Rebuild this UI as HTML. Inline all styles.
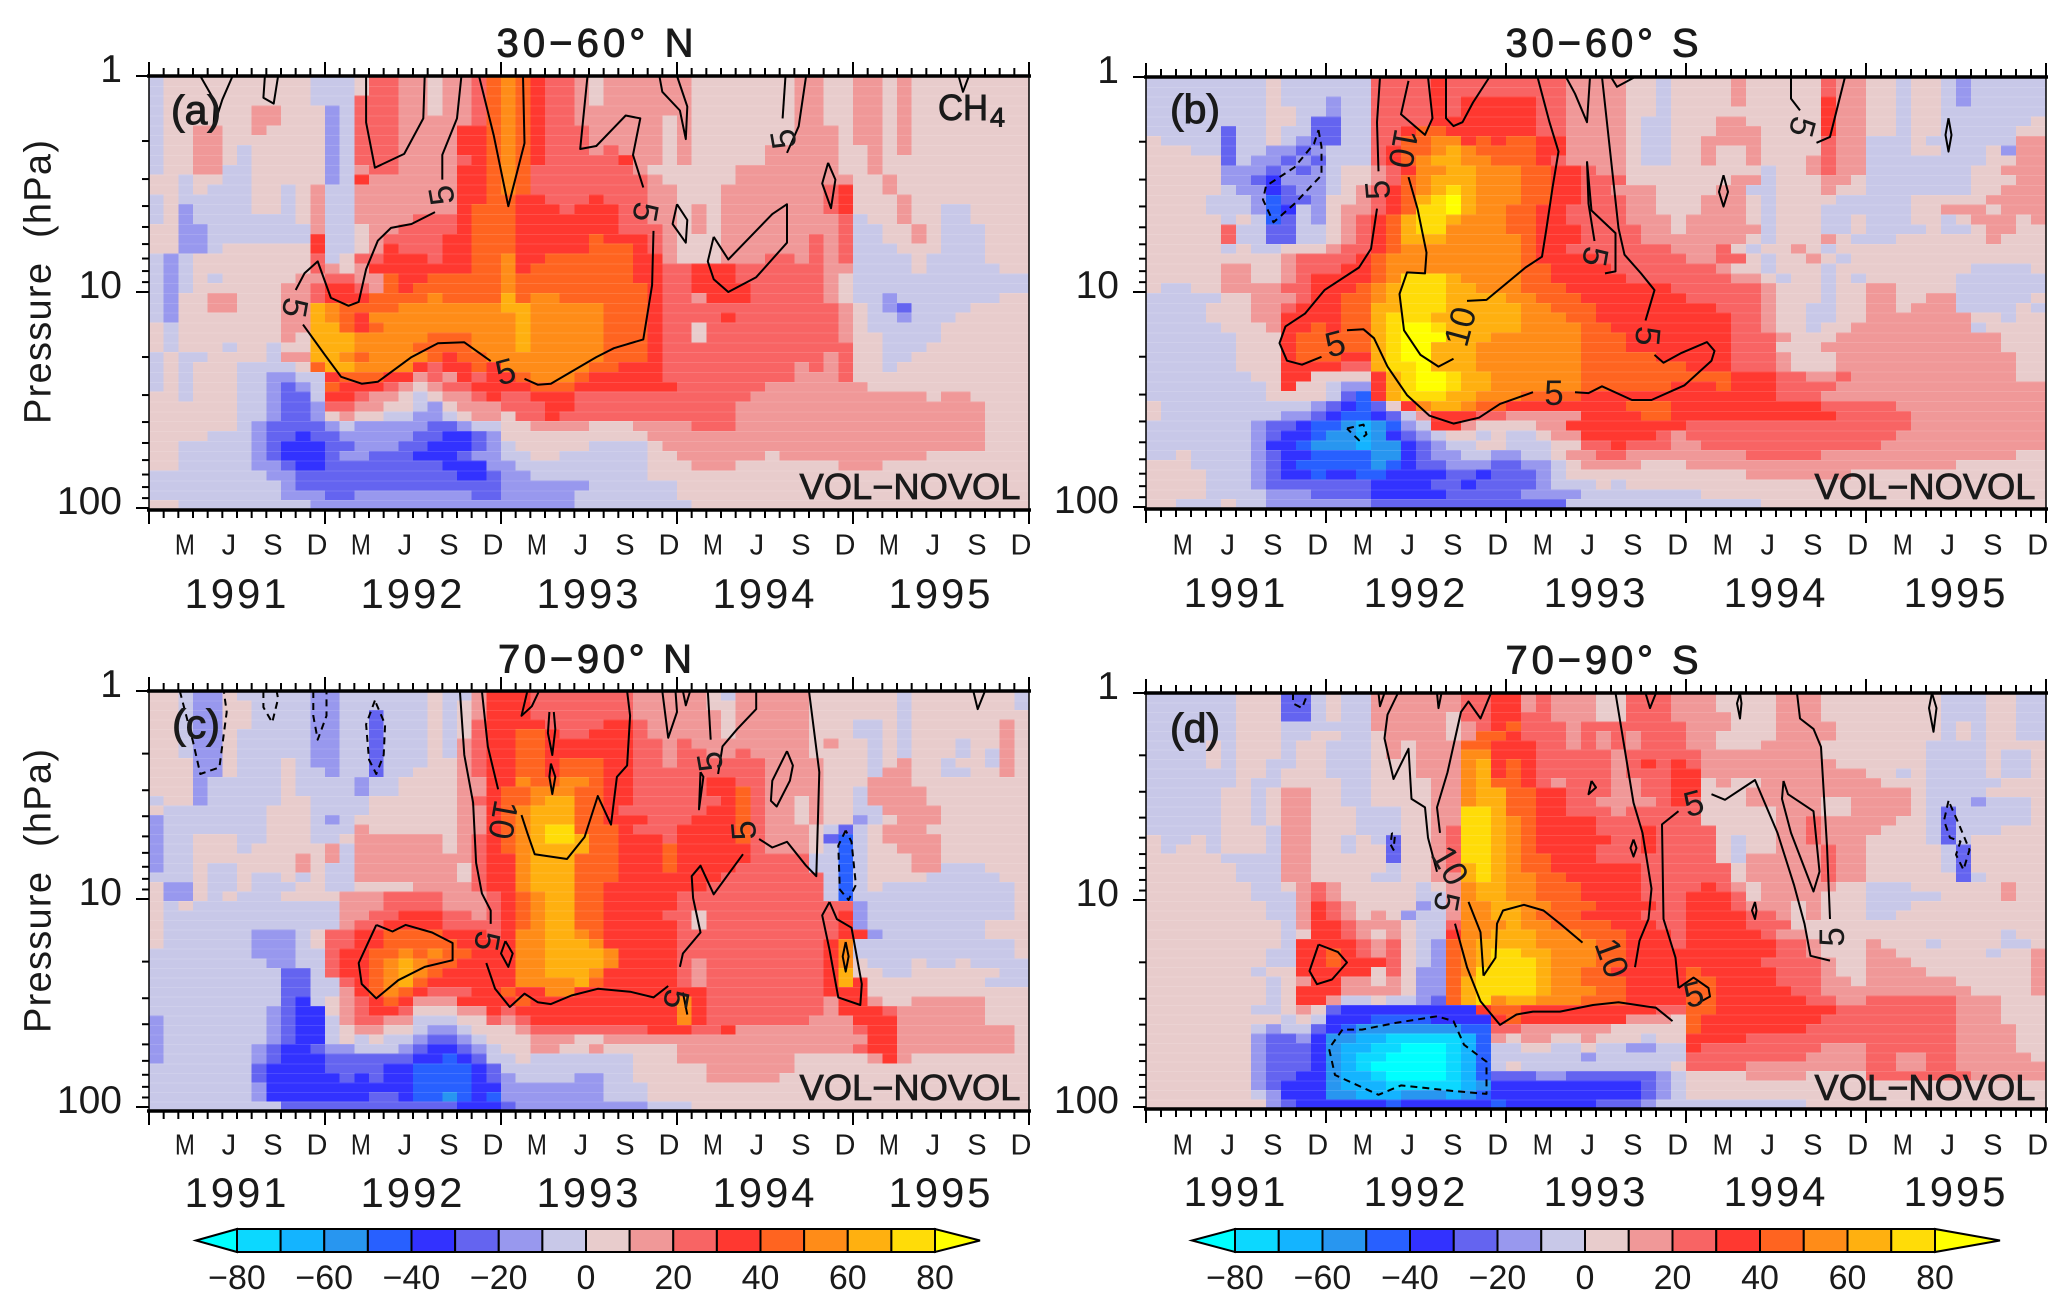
<!DOCTYPE html>
<html lang="en">
<head>
<meta charset="utf-8">
<title>CH4 VOL-NOVOL pressure-time panels</title>
<style>
html,body{margin:0;padding:0;background:#fff;}
svg{display:block;}
text{font-family:"Liberation Sans",sans-serif;fill:#1a1a1a;}
</style>
</head>
<body>
<svg id="chart" xmlns="http://www.w3.org/2000/svg" width="2067" height="1307" viewBox="0 0 2067 1307"></svg>
<script>
// Colour class codes: a..i negative bins from -5 to -85, 0..8 positive bins from 5 to 85
const binCodes = {a:-5,b:-15,c:-25,d:-35,e:-45,f:-55,g:-65,h:-75,i:-85,'0':5,'1':15,'2':25,'3':35,'4':45,'5':55,'6':65,'7':75,'8':85};
const legendBreaks = [-80,-70,-60,-50,-40,-30,-20,-10,0,10,20,30,40,50,60,70,80];
const legendColors = ['#00ffff','#0cd8ff','#14b4ff','#2896f0','#2860ff','#3232ff','#6464f0','#9898ee','#c8c8e8','#e8cccc','#f09898','#f86464','#ff3830','#ff6420','#ff8c18','#ffb010','#ffdc08','#ffff00'];
const legendTicks = [-80,-60,-40,-20,0,20,40,60,80];
const monthLetters = ['M','J','S','D'];
const monthIndexes = [2,5,8,11];
const yearLabels = ['1991','1992','1993','1994','1995'];
const pressureTicks = [1,2,3,4,5,6,7,8,9,10,20,30,40,50,60,70,80,90,100];
const pressureLabels = [1,10,100];

const rowsA = [
"a0000000000a aa0221101124 543221011111 100000001100 110100000000",
"a0000000000a aa0221101124 543221011111 100000001100 110100000000",
"a0000000000a aa2221101124 543221011111 100000001100 110100000000",
"a00000011000 ba2221101124 543221111111 100000001100 110100000000",
"a00000011000 ba2221111124 543221111110 100000001100 110100000000",
"a00110010000 ba2221111334 543222111110 100000001110 110100000000",
"a00110000000 ba2221111334 543222111110 100000001110 110100000000",
"a00110a00000 ba2221111334 543222121110 100000111110 010100000000",
"a00110a00000 ba2221111234 543222223110 100000111110 010000000000",
"a0011aa00000 ba1221111334 542222222100 000011111110 010000000000",
"00a00aa00000 ba3111111334 542222222210 000011111111 001000000000",
"00a0aaa00a01 aa1111111334 542222222211 000111111123 001000000000",
"a0aaaaa00a01 aa1111111334 433222322211 000111111123 000100000000",
"a0baaaa00a01 aa1111111344 433323332211 010111111123 000100aa0000",
"a0baaaaaaa01 aa1111222344 433333332211 010111111112 a00100aa0000",
"00bbaaaaaaa1 aa0112222344 433333332221 010111111112 aa0010aaa000",
"00bbaaaaaaa3 aa0122223344 433333433321 000111111212 aa0010aaa000",
"00bba0000003 aa0132223344 433333444321 000111111212 aaa000aaa000",
"aba000000002 a02233323344 533444444331 000111221212 aaaa0aaaa000",
"aba000000002 101333333344 534444444332 233322222211 aaaa0aaaaa00",
"aba0a0000011 221143344444 544444444332 233322222210 aaaaaaaaaaaa",
"aba000000112 332143444444 544444444432 233332222210 aaaaaaaaaaaa",
"ab0011000112 333444454444 645544444432 213332222210 aabaaaaaaa00",
"ab0011000116 544445555555 665555544432 222222222221 0abcaaaa0000",
"ab0000000116 543555555555 565555544432 222322222221 0aabaaa00000",
"0a0000000116 643455555555 565555544432 202222222221 0aaaaa000000",
"0a0000000106 665555544455 565555544432 202222222221 00aaaa000000",
"0a000a00a006 665555444455 565555544432 222222222222 00aaa0000000",
"a0aa0000a116 654555543445 555555544432 222222222212 00aa00000000",
"a0a000aaaa04 665555323343 555555443332 222222221212 00a000000000",
"a0a000aabbaa 344433121323 345554333332 222222221112 000000000000",
"a0a000aabcba 433321012233 334443333333 222222111111 100000000000",
"00a000aabcca 332110a01123 223332222222 222221111111 111110110000",
"000000aabccb 221100ab0111 222332222222 222211111111 111111111000",
"000000aabccb 0100aabba011 022322222222 222211111111 111111111000",
"000000abcccc babbbbbccbaa 001111000111 122211111111 111111111000",
"0000aaabccdc cbbbbbccddcb 000000000011 111111111111 111111111000",
"00aaaaabcddd ccbbbccdddcb a00000aaaa01 111111111111 111111111000",
"00aaaaabcddd cbbcccdddcbb aa00aaaaaa00 111111011111 111110000000",
"00aaaaabbcdd ccccccccdddb baaaaaaaaa00 011100000001 110000000000",
"aaaaaaaabbcc cccccccccddc bbaaaaaaaa00 000000000000 000000000000",
"aaaaaaaaabcc cccccccccccc bbbbbbaaaaaa 000000000000 000000000000",
"aaaaaaaaabbb ccbbbbbbbbcc bbbbbaaaaaaa 000000000000 000000000000",
"00aaaaaaaaab bbbbbbbbbbbb bbbbbaaaaaaa a00000000000 000000000000"
];
const rowsB = [
"aaaaaaaa0aaa aaa222232222 2222111100a0 000100000211 00a00abaaaaa",
"aaaaaaaa0aaa aaa222232222 2222111100a0 000100000211 00a00abaaaaa",
"aaaaaaaa0aaa baa222232333 3322111100a0 000100000311 00a00abaaaaa",
"aaaaaaaa00aa baa222232333 3322111100a0 000000000311 00a00aaaaaaa",
"aaaaaaaa00ac caa222233333 332211110aa0 001100000311 00a00aaaaaa0",
"aaaaacaa0aac caa223443333 332211110aa0 001110000311 00a00aaaaa00",
"0aaaacaa0abc caa224455343 443311110aa0 011110000211 aaa0aaaaaa11",
"000aacaabbcb aaa234456544 443311110aa0 010010000211 aaa00aaa0b11",
"00000cabbcbc aaa234566554 443211110aa0 010010001211 aaaaaaaa0011",
"00000bbbcbcb a00123556655 544332110000 00000a001211 aaaaaaa00111",
"00000bbcdbbb a00124566655 544332220000 00011a000110 aaaaaaa00011",
"00000abbdcbb a01234567655 544332211100 0011aa000100 aaaaaaa00111",
"0000aaabeccb 001234678655 544332221100 01110a0000aa aaa000001111",
"0000aaabedab 011234778655 443322221100 01110a000aaa aaa001110111",
"00000a0aecab 012346776555 443322221110 11110a000aa0 aaa00a011101",
"000002aaccaa 012346775555 443332222110 11111a000aa0 aaaa0aa01100",
"000002aaccaa 012346665555 543332222111 11110a00010a aa0000001000",
"00000a0aa000 122345555555 543322222221 1120a0010a00 000000000000",
"000000000122 223455555555 543333222222 11220a0010a0 000000000000",
"000001100122 233455555555 544333322222 22100a000a00 0000000aaaa0",
"000001100123 333457776555 544333332222 222110a00a0a 000000aaaaaa",
"0aa001111223 334567776655 544433333332 222221000a00 110000aaaaaa",
"aaaaa0011123 344567776666 554443333333 222221000a00 110011aaaaa0",
"aaaa00011233 344667776666 655444333333 33222100aa00 110111aaaa0a",
"aaaa00011333 344677766666 655544333333 33322100aa00 111111100a00",
"aaaaa0001334 344678876666 655554433333 33322100a001 1111111a0000",
"aaaaaa000344 444678886665 555554443333 333222100011 111111111000",
"aaaaaa000344 444678866655 555554443333 333222000111 111111111000",
"aaaaaa000344 433678866655 555554444433 333222100011 111111111100",
"aaaaaa000333 322677866655 555554444444 333222100011 111111111100",
"aaaaaaa00330 000367887665 555554444444 444333221121 111111111100",
"aaaaaaaa0300 abb367887665 555554444443 334333222211 111111111111",
"aaaaaaaa0000 ace367776655 544443333333 333333222111 111111111111",
"0aaaaaaaaaab cdec03566544 333333334443 333333333222 221111111111",
"0aaaaaaaabbc deedca133322 111113333443 333333333322 222111111111",
"aaaaaaabccde efgfeba33100 001133333333 222222222222 222111111111",
"aaaaaaabcdde ffgfdcba00a0 aa0113333321 222222222222 221111111111",
"aaaaaaabddef ffgffdcbaa00 aaa002232221 122222222222 211111111111",
"aa0aaaabcdde eeeffdcbbaab baa011221111 111122222111 111111111100",
"000aaaabcdee eeefedccbbbc cbba01111000 111111111111 111111000000",
"0000aaabcdde ddeeddddccdc ccba00000000 000011111110 000000000000",
"0000aaabcccc cccddddccdcc ccbaaa0a0000 000000000000 000000000000",
"0000aaaabbbc cccdddddcccc cbbbbaaaaaaa a00000000000 000000000000",
"00aaa0aabbbb bbbccccccccc ccccaaaaaaaa aaaaa0000000 000000000000"
];
const rowsC = [
"00abb0aaaaab baaaaaa0aa13 332222222111 110a11111000 000a0000000a",
"00abb00aaaab baaaaaa0a013 332222222111 110011111000 000a0000000a",
"00abb00aaaab baacaaa0a013 332222222111 111011111000 000a00000000",
"00abb00aaaab baacaaa0a023 333222233211 111011111000 aa0a00000010",
"00abb0aaaaab baacaaa0a023 344322333211 111011111000 aa0a00000010",
"00abb0aaaaab baacaaa0a123 344333333221 211111111010 0a0a000a0010",
"00abb0aaaaab baacaaa0a123 344333333221 221121111000 0a0a000a0a10",
"000bb0aaa0ab baacaaa00123 344344433221 222222111100 0a0100a00a10",
"000bb0aaa0aa baacaa000123 344344433222 222222111100 0a1100aa0010",
"000baaaaa0aa aabaa0000113 354455433222 223322111100 011100000000",
"000baaaaa0aa aabaa0000113 445554433222 223342111100 a11110000000",
"a00baaaaa00a aaa000000123 445664433222 222342110100 a11110000000",
"0aaaaaaa000a aaa000000113 456664432222 223342110100 aa1111000000",
"baaaaaaa000a ba0000000113 456664433322 233342110100 ba0111000000",
"baaaaaaa000a aa1000000113 456774443222 3333421110ac a01110000000",
"baa000aa000a a01111110123 456776443332 3333421110ce a01111000000",
"baa000a00000 1a1111110123 456666443334 3333321110ae a00111000000",
"baa000000010 1a1111111123 356664443334 333332222aae a00011000000",
"baa0aa000010 aa1111111023 356664443334 333322222aae a00011aaa000",
"aaa0aa0aa0a0 aa1111111023 356664443333 3332222222ae a0000aaaaa00",
"0bb0aa0aaa00 aa0000111123 356664433333 3322222222ae a0aaaaaaaaa0",
"0bb0a0aaa000 011122221112 345664433333 2222222222ae aaaaaaaaaaa0",
"0a0aaaaaaaaa a11122221112 345664433333 222222222222 baaaaaaaaaa0",
"0aaaaaaaaaaa a11223332212 345664433332 202222222223 baaaaaaaaaa0",
"0aaaaaaaaaaa a12233332222 345664433333 202222222223 baaaaaaaa000",
"0aaaaaabbba0 223344443332 355665433333 222222222223 3baaaaaaa000",
"0aaaaaabbba0 223344444333 355666533333 222222222235 aaaaaaaaaaa0",
"aaaaaaabbbaa 233445454433 355666653333 222222222235 aaaaaaaaaaa0",
"aaaaaaaabbaa 233456544333 355666653333 212222222235 0aaa0aa0aaaa",
"aaaaaaaaacca 233456543333 355666533333 212222222236 00aa000000aa",
"aaaaaaaaacca a23456433333 355556433333 212222222236 300000000aaa",
"aaaaaaaaacca a13454322233 433553333333 332222222233 300000000000",
"aaaaaaaaacda 012343111333 343333333333 532222222213 310011111000",
"aaaaaaaabcdd 012332000113 233333333333 532222222213 332111111000",
"baaaaaaabcdd a12211aaa002 123333333333 532222222111 333111111000",
"baaaaaaabcdd a01100abba00 012222222233 322311111111 233111111110",
"baaaaaaabcdd a0a0aabccba0 001110011111 111111111111 133111111110",
"baaaaaabcddc bbaaabcddcba 001100100000 111111111111 233111111110",
"baaaaaabcddd ccccccddedca a0aaaaaaa000 111111110000 013100000000",
"aaaaaaacdddd ccccddeeeedc aaaaaaaaa000 001111110000 000000000000",
"aaaaaaacdddd dcdcddeeeedc baaaabbaa000 001111100000 000000000000",
"aaaaaaabdddd ddddddeeeedd bbbbbbbaaa00 000000000000 000000000000",
"aaaaaaabdddd dddccdeefede bbbbbbbaaa00 000000000000 000000000000",
"aaaaaaaaaccc cccccccccddd cbbbbbbbbbaa a00000000000 000000000000"
];
const rowsD = [
"aaaaaa000cca 0aa111111223 312111002221 110000111000 00000aaa00aa",
"aaaaaa000cca 0aa111111223 312111002221 110000111000 00000aaa00aa",
"aaaaaa000cca 0aa111110223 322111002221 111000111000 00000aaa00aa",
"aaaaaa000aaa aaa111110123 422212222222 111000111100 00000a0a00aa",
"aaaaaa000aa0 0aa011110144 322212121222 110000111100 00000a0a00aa",
"aaaa0a000a00 aaa010111443 332212121222 110001111000 0000aaaa0000",
"aaaa0a000a00 aaa010111553 332222212222 211111111000 0000aaaa0aa0",
"aaaa0a00aa00 aaa000111563 432222212323 211111111100 0000aaaa0aa0",
"aaaaaa00a000 aaa000111563 432222212223 311111111111 00a0aaaa0aa0",
"aaaaaa0aa000 0aa000011564 432122211223 301001111111 1000aaaaa000",
"aaaaa00a0110 0aa000011566 443322211223 300011111111 1110aaaa0000",
"aaaaa00a0110 0aa000011566 443322111123 200011111001 1110aaabaaa0",
"aaaaa00a0110 00aaa0011776 443322212222 200000111001 1110acaaaaa0",
"aaaaa00a0110 00aaa0011776 543333222222 200000112111 1100acaaaaa0",
"aaaaa000a110 00aaa0012776 543333222322 220000112111 1000acaaa000",
"0aa0a000a110 0a0ac0012776 543333322322 220a00112111 0000aca00000",
"0a00a000a110 0a00c0012776 543333222322 220a00111211 00000ac00000",
"00000aaaa110 0000c0012776 544333222222 220a11111211 00000ac00000",
"000000aaa110 0000a0012676 544333333222 222011111211 00000ac00000",
"000000aaa110 000aa0011676 554433333222 222011111211 000000ca0000",
"0000000aa012 100000a01566 554443333222 232101111100 aaa000000100",
"0000000aaa12 100000aa1566 554443333222 333201111000 aaaaa0000100",
"00000000aa13 210000ba1556 655444333322 333211101000 aaa000000000",
"00000000aa13 21010baa1556 654443333222 333322101000 aa0000000000",
"000000000a13 321110aa2555 655444433322 333322200000 000000000000",
"000000000a03 321010aa3556 665554443332 333332110000 000000000a00",
"000000000a33 332120ab4566 665555443332 333333221000 1000a0000aa0",
"00000000aa33 432120ab4567 766555443333 333333221000 11000000a001",
"00000000aa33 433320ab4567 776555443333 333332222100 111000000001",
"0000000a0033 333020bb4577 776554433333 433333222100 111100000001",
"00000000a013 311010bb4677 776554443333 443333222110 111111000001",
"00000000a033 311110bb4677 776555443333 443333322111 111111100001",
"00000000a033 1aa0aabc4675 665554443333 443333332211 222222111000",
"0000000aa010 cddddddddd34 433333333322 443333333322 222222111000",
"000000000a0a dddeeeedddd3 433333331110 433333333222 222222111000",
"0000000abaac defffffffee2 211111100000 433333332222 222222111100",
"0000000bccbd ffgghhhhhge1 011001000a00 333322222222 222222111100",
"0000000bcccd fgghhiiihgea a00aa0aabbaa 322222222111 222222111100",
"0000000bcccd fghhiiiihgea aaaaabaaaaaa 222222221111 221122111110",
"0000000bcccd fghiiiiihgea 0aaaaaaaaaa0 222211111111 221122111111",
"0000000bccdd fgghiiiihgec ccbbccccccba 000011110000 222222211111",
"0000000bcddd fggghhhhhgfd dddddddddcba 000000000000 000000000000",
"0000000abddd ffgggfffgfed dddddddddcba 000000000000 000000000000",
"00000000bcdd ddddedddddde ddddddcccbaa aaaaaaaa0000 000000000000"
];

// Contours: each point is [month since Jan 1991, log-pressure grid level]
const contoursA = [
 [[3.5,0],[4.5,2.6],[4.4,5.2],[5,2.4],[5.7,0]],
 [[7.9,0],[7.8,2.2],[8.5,2.8],[8.8,0]],
 [[14.8,0],[14.8,4.7],[15.4,9.3],[17.4,7.9],[18.7,4.3],[18.8,0]],
 [[21.3,0],[21,4.3],[20,8],[20,10.5]],
 [[19.5,13.8],[17.9,15],[16.5,15.4],[15.6,16.7],[14.8,19.6],[14.3,22.9],[13.6,23.3],[12.4,22.5],[11.5,18.8],[10.6,20],[10,21.7]],
 [[10.5,25.2],[12,28.3],[13.1,30.5],[14.5,31.2],[15.6,31],[17.9,28.5],[19.7,27.1],[21.5,27],[23.3,28.9]],
 [[25.6,30.7],[26.5,31.3],[27.4,31.2],[30.5,28.5],[31.7,27.6],[33.7,26.7],[34.3,21.2],[34.4,15.7]],
 [[33.7,11.3],[33,8],[33.5,4.3],[32.5,4],[30.5,7.1],[29.4,7.4],[29.9,0]],
 [[22.5,0],[23.5,6],[24.5,13.2],[25.6,6.8],[25.5,0]],
 [[34.8,0],[35,1.6],[36.2,3.5],[36.6,6.4],[36.7,3.1],[36,0]],
 [[36,13],[35.7,15],[36.6,16.9],[36.7,14.6],[36,13]],
 [[38.5,16.3],[38.1,18.8],[38.5,20.6],[39.5,21.9],[41.4,20.4],[43.5,16.9],[43.5,13],[42.5,14],[39.5,18.6],[38.5,16.3]],
 [[46.3,8.8],[45.9,10.9],[46.5,13.4],[46.8,10.5],[46.3,8.8]],
 [[43.4,0],[43.2,4.3]],
 [[43.5,7.8],[44.3,5.1],[44.8,0]],
 [[55.2,0],[55.5,1.6],[55.9,0]]
];
const dashedA = [];
const labelsA = [[19.9,12.1,-100,'5'],[33.9,13.8,100,'5'],[10,23.5,100,'5'],[24.3,29.9,-15,'5'],[43.2,6.4,-100,'5']];

const contoursB = [
 [[15.6,0],[15.4,4.6],[15.5,9.6]],
 [[15.4,13.4],[15,17.5],[14.2,19.4],[11.9,21.7],[10.6,24.1],[9.3,25.4],[8.9,27.1],[9.4,28.9],[10.4,29.3],[11.7,28.5]],
 [[13.4,25.8],[14.5,25.7],[15.2,26.6],[16.1,29.5],[17.4,32.4],[18.9,34.5],[20.5,35.3],[22.2,34.7],[23.6,33.3],[25.8,32.1]],
 [[28.6,32.1],[29.5,32.2],[30.4,31.5],[32.4,32.9],[33.7,32.9],[35.9,31.4],[37.7,28.9],[37.9,27.9],[37.4,27],[35.7,28.1],[34.5,29.1],[33.9,28.3]],
 [[33.3,24.8],[33.9,21.7],[33,20],[31.9,18.1],[31.5,15.4],[30.4,0]],
 [[17.5,0.4],[17,3.8],[18.6,5.9],[19.1,4.2],[18.8,0]],
 [[20,0],[20,4.2],[20.5,5],[21.1,4.6],[21.8,2.6],[22.9,0]],
 [[17.5,10.2],[18.1,13.4],[18.7,17.9],[18.6,20],[17.4,19.9],[16.9,22.1],[17.2,25.8],[18.3,28.3],[19.5,29.5],[20.5,28.7]],
 [[21.4,22.8],[22.7,22.7],[25.3,19.4],[26.4,18.3],[26.7,15.4],[27.1,11.3],[27.5,7.6],[26.9,4.6],[26.1,0]],
 [[28,0],[28.6,1.7],[29.4,4.6],[29.6,0]],
 [[29.4,8.6],[29.5,12.9],[29.9,16.7]],
 [[30.6,20],[31.3,19.8],[31.3,15.9],[29.7,13.6],[29.4,8.6]],
 [[31,0],[31.4,1],[32.6,0]],
 [[43,0],[43,2.2],[43.6,3.4]],
 [[44.7,6.7],[45.6,6.1],[46.6,0]],
 [[38.5,10],[38.2,11.7],[38.5,13.2],[38.8,11.7],[38.5,10]],
 [[53.5,4.2],[53.3,5.9],[53.5,7.6],[53.7,5.9],[53.5,4.2]]
];
const dashedB = [
 [[11.5,5.4],[11.7,7.1],[11.7,10],[9.9,12.9],[8.5,14.8],[7.8,12.5],[8,11.1],[9.9,9.2],[11.2,6.8],[11.5,5.4]],
 [[13.4,35.8],[14.5,35.4],[14.7,36.4],[14.2,37],[13.4,35.8]]
];
const labelsB = [[15.4,11.5,-95,'5'],[12.6,27.1,-15,'5'],[27.2,32.1,0,'5'],[33.5,26.4,95,'5'],[30,18.3,100,'5'],[17.2,7.3,100,'10'],[20.9,25.4,-75,'10'],[43.8,5.1,105,'5']];

const contoursC = [
 [[21.2,0],[21.5,6.7],[22.1,11.7],[22.3,18],[22.7,21.2],[23.3,23],[23.3,24.4]],
 [[23,28.5],[23.6,31.2],[24.6,33.1],[25.6,31.7],[26.5,32.6],[27.4,32.8],[28.8,31.9],[30.6,31.2],[32.8,31.5],[34.4,32.1],[35.4,30.9]],
 [[36.7,33.9],[36.4,31.6]],
 [[36.2,28.9],[36.4,27.5],[37.6,25.3],[37.1,21.7],[37,19.4],[37.6,18.3],[38.5,21.3],[39.4,19.4],[40.5,17.1]],
 [[41.6,15.5],[42.5,16.4],[43.5,15.8],[44.8,18.3],[45.5,19.4],[45.7,8.5],[45,0]],
 [[22.7,0],[23.1,5.8],[23.8,10.3]],
 [[25.4,13],[25.8,14.9],[26.3,17.1],[28.5,17.6],[29.7,15.3],[30.6,11],[31.5,14],[31.9,9],[32.6,7.8],[32.8,2.6],[32.6,0]],
 [[25.8,0],[25.4,2.6],[26.1,1.6],[26.6,0]],
 [[27.3,2.2],[27.2,4.4],[27.5,6.7],[27.7,4],[27.6,2.2]],
 [[27.4,7.6],[27.3,9],[27.5,10.8],[27.7,9],[27.4,7.6]],
 [[35,0],[35.4,4.9],[36,2.2],[35.9,0]],
 [[36.4,0],[36.6,1.5],[36.9,0]],
 [[38.1,0],[38.3,5.1]],
 [[37.6,8.5],[37.5,12.4],[37.8,9],[37.6,8.5]],
 [[38.8,8.7],[39.1,5.8],[40.1,4],[41.4,1.9],[41.4,0]],
 [[43.5,6.3],[42.5,9.4],[42.4,11.5],[42.8,12.1],[43.7,9.4],[43.9,7.8],[43.5,6.3]],
 [[15.5,24.5],[14.3,28.5],[14.5,30.7],[15.5,32.2],[17,30.3],[18.8,28.9],[20.7,28.2],[20.7,26.4],[19.3,25.3],[17.5,24.5],[16.6,25.2],[15.5,24.5]],
 [[24.3,26.2],[24,27.5],[24.5,28.9],[24.8,27.5],[24.3,26.2]],
 [[46.4,22.1],[45.9,23.5],[46.4,27.1],[47,32.1],[48.5,32.9],[48.6,30.7],[47.9,24.8],[46.9,23.9],[46.4,22.1]],
 [[47.5,26.3],[47.3,27.8],[47.5,29.4],[47.7,27.8],[47.5,26.3]],
 [[56.2,0],[56.5,1.9],[57,0]]
];
const dashedC = [
 [[2.1,0],[3,5.3],[3.5,8.7],[4.8,8],[5.3,2.2],[5.1,0]],
 [[7.8,0],[7.8,1.7],[8.4,3.3],[8.8,0.8],[8.7,0]],
 [[11.2,0],[11.2,2.6],[11.5,5.1],[12.1,2.6],[12.1,0]],
 [[15.4,1],[14.8,3.5],[15,7.2],[15.5,8.7],[16,6.7],[16.1,3.5],[15.4,1]],
 [[47.5,14.6],[47,16.2],[47.1,20.8],[47.7,21.9],[48.2,20.3],[47.9,15.8],[47.5,14.6]]
];
const labelsC = [[23.1,26.2,100,'5'],[36,32.3,100,'5'],[40.5,14.6,-95,'5'],[38.2,7.4,-100,'5'],[24.2,13.5,100,'10']];

const contoursD = [
 [[16.8,0],[16.1,2.3],[15.9,4.8],[16.5,9.1],[17.5,5.9],[17.7,11.2],[18.6,12.1],[18.8,15.3],[19.4,18.9]],
 [[20.6,24.4],[21.4,29],[22.3,32.6],[23.6,35.1],[24.7,34],[25.8,33.7],[27.6,33.7],[29.8,33],[31.5,32.7],[34,33.3],[35.1,34.7]],
 [[35.5,31.2],[36.5,30.1],[37.5,31.2],[37.6,32.1],[36.8,32.8]],
 [[35.5,31.2],[35.3,28],[34.5,23.9],[34.4,13.9],[35.5,12.5]],
 [[37.7,10.7],[38.6,11.3],[40.6,9.2],[42.1,14.8],[43.2,20.3],[43.9,24.4],[44.3,27.8],[45.6,28.3]],
 [[45.6,23.9],[45.4,16.2],[45,5.7],[44.5,3.8],[43.6,2.7],[43.4,0]],
 [[23,0],[22.3,2.7],[21.5,0.9],[21,2],[20.1,8.4],[19.4,12.1],[19.6,14.8]],
 [[22.5,29.9],[23.3,28],[23.4,24.4],[23.8,23],[25.2,22.4],[26.5,23],[27.6,24.4],[29.1,26.4]],
 [[21.5,22.1],[22.3,25.3],[22.5,29.9]],
 [[32.6,29],[32.9,26.2],[33.5,23.9],[33.7,20.7],[33.1,14.8],[32.5,11.6],[31.3,0]],
 [[19.4,0],[19.5,1.6],[19.7,0]],
 [[15.5,0],[15.6,1.4],[15.9,0]],
 [[33.3,0],[33.6,1.6],[34,0]],
 [[32.5,15.5],[32.3,16.4],[32.5,17.3],[32.7,16.4],[32.5,15.5]],
 [[29.7,9.3],[29.5,10.7],[30,10],[29.7,9.3]],
 [[39.6,0],[39.4,1.1],[39.6,2.7],[39.7,1.1],[39.6,0]],
 [[40.6,22.1],[40.4,23],[40.6,23.9],[40.7,23],[40.6,22.1]],
 [[42.5,9.3],[42.4,11.2],[43,14.8],[44.5,21],[44.9,18.9],[44.5,12.5],[42.8,10.7],[42.5,9.3]],
 [[52.4,0],[52.2,1.6],[52.5,4.1],[52.7,1.6],[52.4,0]],
 [[11.5,26.6],[10.9,29.4],[11.4,30.8],[12.4,30.3],[13.4,28.5],[12.8,27.4],[11.5,26.6]]
];
const dashedD = [
 [[13.1,35.6],[12.2,37.6],[12.6,40.4],[15.5,42.5],[17,41.5],[20.5,42.1],[22.7,42.4],[22.7,39],[21.2,37.2],[20.5,34.7],[19.4,34.2],[16.6,34.9],[14.4,35.6],[13.1,35.6]],
 [[9.8,0],[9.8,1.1],[10.4,1.6],[10.8,0]],
 [[16.4,14.8],[16.3,16],[16.5,16.6],[16.6,15],[16.4,14.8]],
 [[53.5,11.4],[53.2,13.5],[53.6,15.3],[54.3,15.7],[54,17.1],[54.5,18.7],[54.9,16.6],[54.2,13.9],[53.5,11.4]]
];
const labelsD = [[20.1,22.1,100,'5'],[36.5,31.8,-15,'5'],[36.5,11.6,-15,'5'],[45.7,25.8,-90,'5'],[20.3,18.2,60,'10'],[31.1,28,70,'10']];

const NS = 'http://www.w3.org/2000/svg';
const root = document.getElementById('chart');
const MONTHS = 60, LEVELS = 44;

function make(tag, parent, attrs) {
  const el = document.createElementNS(NS, tag);
  for (const k in attrs) el.setAttribute(k, attrs[k]);
  parent.appendChild(el);
  return el;
}
function label(parent, name, x, yc, str, size, opt) {
  opt = opt || {};
  const a = {x: x, y: yc + size * 0.36, 'font-size': size, 'text-anchor': opt.anchor || 'middle'};
  if (opt.weight) a['font-weight'] = opt.weight;
  if (opt.len) { a.textLength = opt.len; a.lengthAdjust = opt.adjust || 'spacing'; }
  if (opt.stroke) { a.stroke = '#1a1a1a'; a['stroke-width'] = opt.stroke; }
  if (opt.rot !== undefined) a.transform = 'rotate(' + opt.rot + ' ' + x + ' ' + yc + ')';
  const el = make('text', parent, a);
  el.textContent = str;
  
  
  return el;
}
function colorFor(v) {
  let i = 0;
  while (i < legendBreaks.length && v >= legendBreaks[i]) i++;
  return legendColors[i];
}
function decodeRow(s) {
  let t = s.replace(/ /g, '');
  while (t.length < MONTHS) t += t[t.length - 1];
  return t.slice(0, MONTHS).split('').map(function (c) { return binCodes[c]; });
}

function drawPanel(p) {
  const g = make('g', root, {});
  
  
  const W = p.right - p.left, H = p.bottom - p.top;
  const xScale = function (m) { return p.left + m * W / MONTHS; };
  const yScale = function (r) { return p.top + r * H / LEVELS; };
  const pScale = function (hpa) { return p.top + Math.log10(hpa) * p.decade; };

  const cells = make('g', g, {'shape-rendering': 'crispEdges'});
  
  
  p.rows.forEach(function (rowText, r) {
    decodeRow(rowText).forEach(function (v, m) {
      const c = make('rect', cells, {x: xScale(m), y: yScale(r), width: W / MONTHS + 0.6, height: H / LEVELS + 0.6, fill: colorFor(v)});
      
      
    });
    if (r > 0) {
      make('rect', cells, {x: p.left, y: yScale(r), width: W, height: 1, fill: '#fff', opacity: 0.13});
    }
  });

  const drawLines = function (list, dashed) {
    list.forEach(function (pts) {
      const d = pts.map(function (q) { return xScale(q[0]).toFixed(1) + ',' + yScale(q[1]).toFixed(1); }).join(' ');
      const pl = make('polyline', g, {points: d, fill: 'none', stroke: '#000', 'stroke-width': 2, 'stroke-linejoin': 'round'});
      if (dashed) pl.setAttribute('stroke-dasharray', '7 5');
      
      
    });
  };
  drawLines(p.contours, false);
  drawLines(p.dashed, true);
  p.labels.forEach(function (l) {
    label(g, 'contour-label', xScale(l[0]), yScale(l[1]), l[3], 35, {rot: l[2]});
  });

  // axes
  const frame = make('rect', g, {x: p.left, y: p.top, width: W, height: H, fill: 'none', stroke: '#000', 'stroke-width': 1.5});
  
  
  make('line', g, {x1: p.left - 2, x2: p.right + 2, y1: p.top, y2: p.top, stroke: '#000', 'stroke-width': 3.5});
  make('line', g, {x1: p.left - 2, x2: p.right + 2, y1: p.bottom, y2: p.bottom, stroke: '#000', 'stroke-width': 3.5});
  for (let m = 0; m <= MONTHS; m++) {
    const len = m % 12 === 0 ? 14 : 8;
    const x = xScale(m);
    make('line', g, {x1: x, x2: x, y1: p.top, y2: p.top - len, stroke: '#000', 'stroke-width': 2});
    make('line', g, {x1: x, x2: x, y1: p.bottom, y2: p.bottom + len, stroke: '#000', 'stroke-width': 2});
  }
  pressureTicks.forEach(function (v) {
    const y = pScale(v);
    const major = pressureLabels.indexOf(v) >= 0;
    make('line', g, {x1: p.left, x2: p.left - (major ? 13 : 7), y1: y, y2: y, stroke: '#000', 'stroke-width': 2});
  });
  pressureLabels.forEach(function (v) {
    label(g, 'y-tick-label', p.left - 27, pScale(v) - 8, String(v), 39, {anchor: 'end'});
  });
  for (let y = 0; y < 5; y++) {
    monthIndexes.forEach(function (mi, k) {
      const letter = monthLetters[k];
      label(g, 'month-label', xScale(y * 12 + mi + 0.45), p.monthY, letter, 29, letter === 'M' ? {len: 20, adjust: 'spacingAndGlyphs'} : {});
    });
    label(g, 'year-label', xScale(y * 12 + 5.9), p.yearY, yearLabels[y], 42, {len: 102});
  }
  label(g, 'panel-title', p.titleX, p.titleY, p.title, 40, {stroke: 0.9, len: p.titleLen});
  label(g, 'panel-tag', p.tagX, p.tagY, p.tag, 41, {stroke: 1});
  label(g, 'vol-novol-label', p.volX, p.volY, 'VOL\u2212NOVOL', 36, {stroke: 0.8, len: 221, adjust: 'spacingAndGlyphs'});
  if (p.yTitleY) {
    label(g, 'y-axis-title', 37, p.yTitleY, 'Pressure\u00a0\u00a0(hPa)', 38, {rot: -90, len: 284});
  }
}

function drawLegend(c) {
  const g = make('g', root, {});
  
  
  const step = (c.x1 - c.x0) / (legendBreaks.length - 1);
  const xs = function (v) { return c.x0 + (v - legendBreaks[0]) / 10 * step; };
  const mid = (c.y0 + c.y1) / 2;
  const lt = make('polygon', g, {points: c.tipL + ',' + mid + ' ' + c.x0 + ',' + c.y0 + ' ' + c.x0 + ',' + c.y1, fill: legendColors[0], stroke: '#000', 'stroke-width': 2});
  
  
  const rt = make('polygon', g, {points: c.tipR + ',' + mid + ' ' + c.x1 + ',' + c.y0 + ' ' + c.x1 + ',' + c.y1, fill: legendColors[legendColors.length - 1], stroke: '#000', 'stroke-width': 2});
  
  
  for (let i = 0; i < legendBreaks.length - 1; i++) {
    const b = make('rect', g, {x: xs(legendBreaks[i]), y: c.y0, width: step, height: c.y1 - c.y0, fill: legendColors[i + 1], stroke: '#000', 'stroke-width': 2});
    
    
  }
  legendTicks.forEach(function (v) {
    const s = v < 0 ? '\u2212' + (-v) : String(v);
    label(g, 'legend-tick-label', xs(v), c.labelY, s, 34);
  });
}

const panels = [
 {id:'a',left:149,right:1029,top:76,bottom:510,decade:216,rows:rowsA,contours:contoursA,dashed:dashedA,labels:labelsA,title:'30\u221260\u00b0 N',titleX:595,titleY:42,titleLen:197,tag:'(a)',tagX:196,tagY:109,volX:910,volY:486,monthY:544,yearY:593,yTitleY:282},
 {id:'b',left:1146,right:2046,top:77,bottom:509,decade:215,rows:rowsB,contours:contoursB,dashed:dashedB,labels:labelsB,title:'30\u221260\u00b0 S',titleX:1602,titleY:42,titleLen:193,tag:'(b)',tagX:1195,tagY:108,volX:1925,volY:486,monthY:544,yearY:592},
 {id:'c',left:149,right:1029,top:691,bottom:1111,decade:208,rows:rowsC,contours:contoursC,dashed:dashedC,labels:labelsC,title:'70\u221290\u00b0 N',titleX:595,titleY:658,titleLen:194,tag:'(c)',tagX:196,tagY:723,volX:910,volY:1087,monthY:1144,yearY:1192,yTitleY:891},
 {id:'d',left:1146,right:2046,top:693,bottom:1109,decade:207,rows:rowsD,contours:contoursD,dashed:dashedD,labels:labelsD,title:'70\u221290\u00b0 S',titleX:1602,titleY:659,titleLen:193,tag:'(d)',tagX:1195,tagY:727,volX:1925,volY:1087,monthY:1144,yearY:1191}
];
panels.forEach(drawPanel);

const chLabel = label(root, 'species-label', 938, 107, 'CH', 36, {anchor: 'start', stroke: 0.9, len: 50, adjust: 'spacingAndGlyphs'});
const chSub = label(root, 'species-subscript', 990, 117, '4', 27, {anchor: 'start', stroke: 0.9});

drawLegend({x0:237,x1:935,y0:1229,y1:1252,tipL:196,tipR:980,labelY:1277});
drawLegend({x0:1235,x1:1935,y0:1229,y1:1252,tipL:1192,tipR:2000,labelY:1277});
</script>
</body>
</html>
